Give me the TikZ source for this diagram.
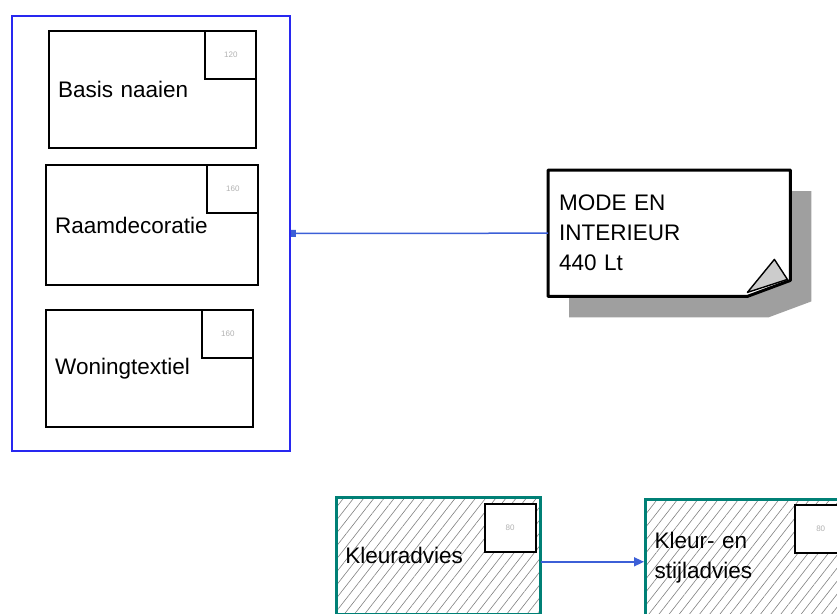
\documentclass[tikz,border=0pt]{standalone}
\usepackage{fontspec}
\setmainfont{Liberation Sans}
\usetikzlibrary{arrows.meta,patterns.meta,calc}

\definecolor{groupblue}{RGB}{40,40,240}
\definecolor{linkblue}{RGB}{60,95,215}
\definecolor{adviceteal}{RGB}{0,128,118}

\begin{document}
\begin{tikzpicture}[
    x=1pt, y=-1pt,
    every node/.style={font=\fontsize{22.5}{30}\selectfont},
    group/.style={draw=groupblue, line width=1.8pt, anchor=north west,
                  minimum width=278pt, minimum height=435pt},
    task/.style={draw=black, line width=2.4pt, anchor=north west,
                 align=left, inner xsep=9pt, minimum height=117pt},
    advice/.style={task, draw=adviceteal, line width=3.2pt,
                   pattern={Lines[angle=52, distance=8pt, line width=0.6pt]},
                   pattern color=gray},
    numbox/.style={draw=black, fill=white, line width=2pt, anchor=north east,
                   minimum width=51pt, minimum height=48pt, text=gray!60,
                   font=\fontsize{8}{9}\selectfont},
    note/.style={anchor=north west, align=left, inner xsep=11pt,
                 text width=220pt, minimum height=126pt},
    link/.style={draw=linkblue, line width=1.5pt},
]

\useasboundingbox (0,0) rectangle (837,613);

\node [group] (mode-group) at (11,15) {};

\node [task, text width=189pt] (basis) at (48,30) {Basis naaien};
\node [numbox] (basis-n) at (basis.north east) {120};
\node [task, text width=194pt, minimum height=120pt] (raam) at (45,164) {Raamdecoratie};
\node [numbox] (raam-n) at (raam.north east) {160};
\node [task, text width=189pt] (wonen) at (45,309) {Woningtextiel};
\node [numbox] (wonen-n) at (wonen.north east) {160};

\node [note] (mode) at (548,170) {};
\fill [gray!75]
    ($(mode.north west)+(21,21)$) -- ($(mode.north east)+(21,21)$)
    -- ($(mode.south east)+(21,5)$) -- ($(mode.south east)+(-22,21)$)
    -- ($(mode.south west)+(21,21)$) -- cycle;
\filldraw [fill=white, line width=3pt, line join=round]
    (mode.north west) -- (mode.north east) -- ($(mode.south east)+(0,-16)$)
    -- ($(mode.south east)+(-43,0)$) -- (mode.south west) -- cycle;
\filldraw [fill=gray!40, line width=1.4pt, line join=round]
    ($(mode.south east)+(-43,-4)$) -- ($(mode.south east)+(-16,-37)$)
    -- ($(mode.south east)+(-3,-17)$) -- cycle;
\node [note] at (548,170) {MODE EN\\INTERIEUR\\440 Lt};

\node [advice, text width=186pt] (kleur) at (336,497) {Kleuradvies};
\node [numbox] (kleur-n) at ([xshift=-4pt,yshift=-6pt]kleur.north east) {80};
\node [advice, text width=186pt] (stijl) at (644,498) {Kleur- en\\stijladvies};
\node [numbox] (stijl-n) at ([xshift=-4pt,yshift=-6pt]stijl.north east) {80};

\draw [link, {Square[length=5pt,width=7pt]}-] (mode-group.east) -- (mode.west);
\draw [link, -{Triangle[length=10pt,width=9pt]}]
    ([yshift=-6pt]kleur.east) -- ([yshift=-6pt]kleur.east -| stijl.west);

\end{tikzpicture}
\end{document}
